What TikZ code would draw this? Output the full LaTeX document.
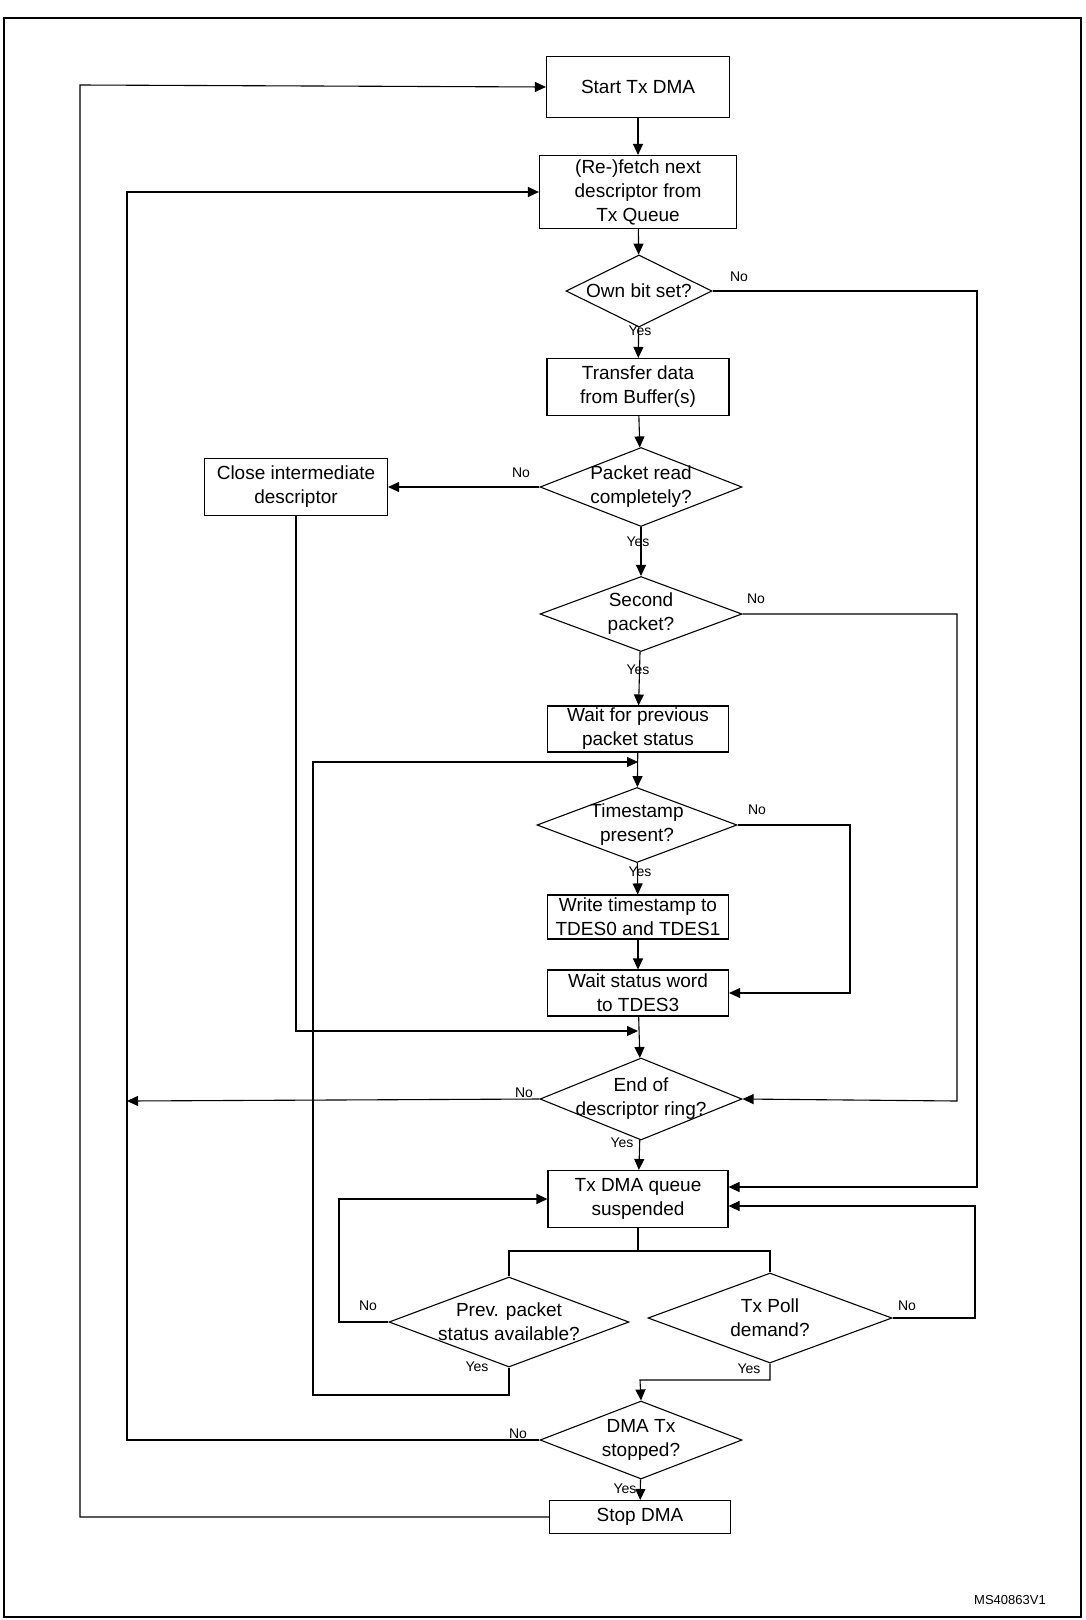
\documentclass[tikz,border=0pt]{standalone}
\usepackage{fontspec}
\setmainfont{Liberation Sans}
\usetikzlibrary{shapes.geometric, arrows.meta, positioning}
\tikzset{
	box/.style={draw, rectangle, align=center, inner sep=0pt, font=\fontsize{19}{24}\selectfont},
	decision/.style={draw, diamond, inner sep=0pt},
	every label/.style={font=\fontsize{19}{24}\selectfont, align=center},
	yn/.style={font=\fontsize{14}{16}\selectfont, inner sep=1pt}
}
\begin{document}
\begin{tikzpicture}[x=1pt, y=-1pt, line width=1.1pt, >={Triangle[length=11pt,width=10pt]}]
	\useasboundingbox (0,0) rectangle (1085,1620);
	\draw (4,18) rectangle (1081,1617);
	% boxes
	\node[box, minimum width=183, minimum height=61] (start) at (638,87) {Start Tx DMA};
	\node[box, minimum width=197, minimum height=73] (fetch) at (638,192) {(Re-)fetch next\\descriptor from\\Tx Queue};
	\node[box, minimum width=182, minimum height=57] (xfer) at (638,387) {Transfer data\\from Buffer(s)};
	\node[box, minimum width=183, minimum height=57] (close) at (296,487) {Close intermediate\\descriptor};
	\node[box, minimum width=181, minimum height=46] (waitprev) at (638,729) {Wait for previous\\packet status};
	\node[box, minimum width=181, minimum height=44] (wrts) at (638,917) {Write timestamp to\\TDES0 and TDES1};
	\node[box, minimum width=181, minimum height=46] (status) at (638,993) {Wait status word\\to TDES3};
	\node[box, minimum width=180, minimum height=57] (susp) at (638,1199) {Tx DMA queue\\suspended};
	\node[box, minimum width=181, minimum height=33] (stopdma) at (640,1517) {Stop DMA};
	% decisions
	\node[decision, minimum width=146, minimum height=72, label={center:Own bit set?}] (own) at (639,291) {};
	\node[decision, minimum width=202, minimum height=79, label={center:Packet read\\completely?}] (pkt) at (641,487) {};
	\node[decision, minimum width=202, minimum height=75, label={center:Second\\packet?}] (second) at (641,614) {};
	\node[decision, minimum width=200, minimum height=75, label={center:Timestamp\\present?}] (tspres) at (637,825) {};
	\node[decision, minimum width=202, minimum height=82, label={center:End of\\descriptor ring?}] (ring) at (641,1099) {};
	\node[decision, minimum width=240, minimum height=90, label={center:Prev. packet\\status available?}] (prev) at (509,1322) {};
	\node[decision, minimum width=244, minimum height=90, label={center:Tx Poll\\demand?}] (poll) at (770,1318) {};
	\node[decision, minimum width=202, minimum height=78, label={center:DMA Tx\\stopped?}] (stopped) at (641,1440) {};
	% merge points
	\coordinate (mtop) at (638,762);
	\coordinate (mlow) at (638,1031);
	\coordinate (ringside) at (127,1101);
	\coordinate (split) at (638,1251);
	% main flow
	\draw[->] (start) -- (fetch);
	\draw[->] (fetch) -- (own);
	\draw[->] (own) -- (xfer);
	\draw[->] (xfer) -- (pkt);
	\draw[->] (pkt) -- (second);
	\draw[->] (second) -- (waitprev);
	\draw[->] (waitprev) -- (tspres);
	\draw[->] (tspres) -- (wrts);
	\draw[->] (wrts) -- (status);
	\draw[->] (status) -- (ring);
	\draw[->] (ring) -- (susp);
	\draw (susp) -- (split);
	\draw (split) -| (prev.north);
	\draw (split) -| (poll.north);
	\draw[->] (poll.south) |- (640,1380) -- (stopped.north);
	\draw[->] (stopped) -- (stopdma);
	% side branches
	\draw[->] (pkt.west) -- (close.east);
	\draw[->] (close.south) |- (mlow);
	\draw[->] (own.east) -| (977,1187) -- ([yshift=12pt]susp.east);
	\draw[->] (second.east) -| (957,1101) -- (ring.east);
	\draw[->] (tspres.east) -| (850,993) -- (status.east);
	\draw[->] (prev.west) -| (339,1199) -- (susp.west);
	\draw[->] (poll.east) -| (975,1206) -- ([yshift=-7pt]susp.east);
	\draw[->] (prev.south) |- (313,1395) -- (313,762) -- (mtop);
	\draw[->] (ring.west) -- (ringside);
	\draw[->] (stopped.west) -| (127,192) -- (fetch.west);
	\draw[->] (stopdma.west) -| (80,85) -- (start.west);
	% yes / no
	\node[yn] (y1) at (640,331) {Yes};
	\node[yn] (n1) at (739,277) {No};
	\node[yn] (n2) at (521,473) {No};
	\node[yn] (y2) at (638,542) {Yes};
	\node[yn] (n3) at (756,599) {No};
	\node[yn] (y3) at (638,670) {Yes};
	\node[yn] (n4) at (757,810) {No};
	\node[yn] (y4) at (640,872) {Yes};
	\node[yn] (n5) at (524,1093) {No};
	\node[yn] (y5) at (622,1143) {Yes};
	\node[yn] (n6) at (368,1306) {No};
	\node[yn] (y6) at (477,1367) {Yes};
	\node[yn] (n7) at (907,1306) {No};
	\node[yn] (y7) at (749,1369) {Yes};
	\node[yn] (n8) at (518,1434) {No};
	\node[yn] (y8) at (625,1489) {Yes};
	\node[yn, font=\fontsize{13}{15}\selectfont] (ref) at (1010,1600) {MS40863V1};
\end{tikzpicture}
\end{document}
